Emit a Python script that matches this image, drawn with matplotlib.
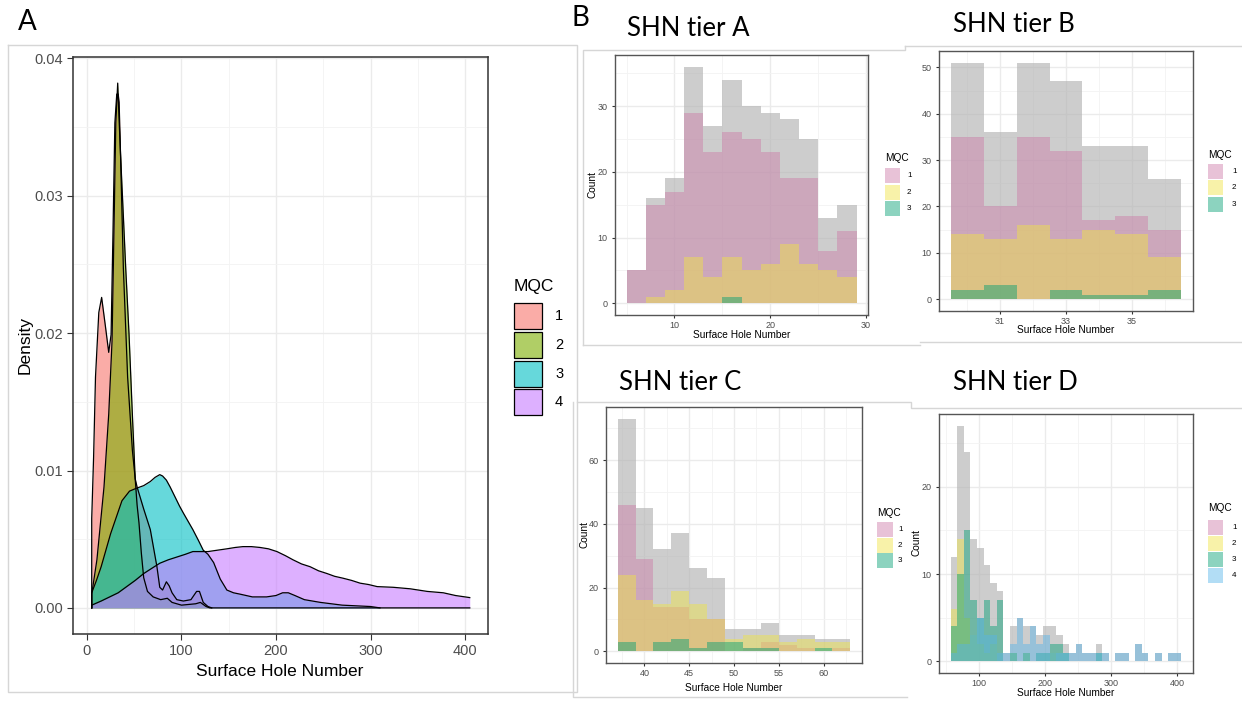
import matplotlib.pyplot as plt
from matplotlib.colors import to_rgba
from matplotlib.lines import Line2D
from matplotlib.patches import Rectangle

plt.rcParams['font.family'] = ['Liberation Sans', 'DejaVu Sans']

# ---------------- panel A: density curves ----------------
mqc1_x = [5, 5, 7, 9, 12.5, 15.5, 19.5, 23, 25.5, 27.5, 29.5, 31.5, 33, 34, 35.5, 38.5, 43, 48, 51, 53,
          60, 67, 74, 77, 80, 84, 87, 90, 95, 102, 110, 116, 119, 123, 128, 132]
mqc1_y = [0, 0.0065, 0.011, 0.0168, 0.0215, 0.0226, 0.0205, 0.0186, 0.0199, 0.0273, 0.0353, 0.0374, 0.0374,
          0.0368, 0.033, 0.0247, 0.0168, 0.0115, 0.0094, 0.0088, 0.0072, 0.0057, 0.003, 0.0015, 0.0013,
          0.0019, 0.0016, 0.0011, 0.0006, 0.0005, 0.0006, 0.0012, 0.0012, 0.0004, 0.0001, 0]

mqc2_x = [5, 5, 10.5, 18, 23, 26.5, 28.5, 30.5, 32.5, 34, 35.5, 37.5, 41, 44.5, 48, 51, 53, 55, 57.5, 60,
          64, 70, 78, 85, 90, 100, 115, 120, 126, 130, 405]
mqc2_y = [0, 0.001, 0.0035, 0.0088, 0.0141, 0.0194, 0.0273, 0.0353, 0.0382, 0.0355, 0.0330, 0.0300, 0.0247,
          0.0199, 0.0141, 0.0094, 0.0075, 0.0062, 0.004, 0.0022, 0.0012, 0.0008, 0.0006, 0.0007, 0.0004,
          0.0002, 0.0003, 0.0004, 0.0001, 0, 0]

mqc3_x = [5, 5, 10, 15, 20, 25, 30, 37, 45, 52, 60, 67, 72, 77, 80, 84, 88, 93, 98, 102, 107, 112, 118,
          123, 128, 134, 141, 148, 155, 162, 175, 190, 200, 207, 213, 220, 230, 247, 270, 300, 310]
mqc3_y = [0, 0.0011, 0.002, 0.003, 0.0042, 0.0054, 0.0064, 0.0078, 0.0085, 0.0087, 0.0089, 0.0092, 0.0095,
          0.0097, 0.0096, 0.0093, 0.0088, 0.0081, 0.0074, 0.0069, 0.0063, 0.0057, 0.0049, 0.0042, 0.0039,
          0.0033, 0.0021, 0.0013, 0.0011, 0.001, 0.0008, 0.0008, 0.0009, 0.0011, 0.0011, 0.0009, 0.0006,
          0.0004, 0.0002, 0.0001, 0]

mqc4_x = [5, 5, 15, 24, 33, 42, 51, 60, 69, 77, 86, 95, 104, 112, 120, 128, 138, 148, 157, 165, 174, 183,
          192, 201, 210, 218, 227, 236, 245, 254, 262, 271, 280, 289, 298, 307, 324, 342, 360, 377, 390, 405]
mqc4_y = [0, 0.0002, 0.0005, 0.0008, 0.0011, 0.00155, 0.002, 0.0025, 0.0029, 0.00325, 0.0035, 0.0037,
          0.0039, 0.0041, 0.0041, 0.0041, 0.0042, 0.0043, 0.0044, 0.00446, 0.00446, 0.0044, 0.0043, 0.0041,
          0.0038, 0.0035, 0.0032, 0.003, 0.0027, 0.0025, 0.0023, 0.00216, 0.002, 0.0018, 0.0017, 0.00155,
          0.0015, 0.00139, 0.0012, 0.0011, 0.0009, 0.00075]

density_ticks = ['0.00', '0.01', '0.02', '0.03', '0.04']
mqc_labels = ['1', '2', '3', '4']
dens_colors = ['#F8766D', '#7CAE00', '#00BFC4', '#C77CFF']
hist_colors = ['#CC79A7', '#F0E442', '#009E73', '#56B4E9']

# ---------------- panel B: histograms per SHN tier ----------------
tierA_edges = [5, 7, 9, 11, 13, 15, 17, 19, 21, 23, 25, 27, 29]
tierA_all = [5, 16, 19, 36, 27, 34, 30, 29, 28, 25, 13, 15]
tierA_mqc1 = [5, 15, 17, 29, 23, 26, 25, 23, 19, 19, 8, 11]
tierA_mqc2 = [0, 1, 2, 7, 4, 7, 5, 6, 9, 6, 5, 4]
tierA_mqc3 = [0, 0, 0, 0, 0, 1, 0, 0, 0, 0, 0, 0]

tierB_edges = [29.5, 30.5, 31.5, 32.5, 33.5, 34.5, 35.5, 36.5]
tierB_all = [51, 36, 51, 47, 33, 33, 26]
tierB_mqc1 = [35, 20, 35, 32, 17, 18, 15]
tierB_mqc2 = [14, 13, 16, 13, 15, 14, 9]
tierB_mqc3 = [2, 3, 0, 2, 1, 1, 2]

tierC_edges = [37, 39, 41, 43, 45, 47, 49, 51, 53, 55, 57, 59, 61, 63]
tierC_all = [73, 45, 32, 37, 26, 23, 7, 7, 9, 5, 5, 4, 4]
tierC_mqc1 = [46, 29, 14, 14, 10, 10, 0, 1, 3, 2, 1, 0, 1]
tierC_mqc2 = [24, 16, 15, 19, 15, 10, 4, 5, 5, 3, 4, 3, 3]
tierC_mqc3 = [3, 0, 3, 4, 1, 3, 3, 1, 1, 0, 0, 1, 0]

tierD_edges = [57, 67, 77, 87, 97, 107, 117, 127, 137, 147, 157, 167, 177, 187, 197, 207, 217, 227,
               237, 247, 257, 267, 277, 287, 297, 307, 317, 327, 337, 347, 357, 367, 377, 387, 397, 407]
tierD_all = [12, 27, 24, 14, 13, 11, 9, 8, 1, 4, 5, 4, 4, 3, 4, 4, 3, 2, 1, 2, 1, 1, 2, 1, 0, 1, 1, 0,
             2, 1, 0, 1, 0, 1, 1]
tierD_mqc1 = [0] * 35
tierD_mqc2 = [6, 14, 5, 3, 2, 1, 2, 0, 0, 1, 0, 1, 0, 0, 0, 1, 0, 0, 0, 0, 0, 0, 0, 0, 0, 0, 0, 0,
              0, 0, 0, 0, 0, 0, 0]
tierD_mqc3 = [4, 10, 15, 7, 5, 7, 4, 7, 0, 1, 0, 1, 0, 1, 1, 2, 2, 1, 0, 0, 0, 0, 1, 0, 0, 0, 0, 0,
              0, 0, 0, 0, 0, 0, 0]
tierD_mqc4 = [1, 2, 2, 3, 5, 3, 3, 1, 1, 2, 5, 2, 4, 2, 3, 1, 1, 1, 1, 2, 1, 1, 1, 1, 0, 1, 1, 0,
              2, 1, 0, 1, 0, 1, 1]

W, H = 1242, 702
fig = plt.figure(figsize=(W / 100, H / 100), dpi=100)


def axes_px(x0, y0, x1, y1):
    return fig.add_axes([x0 / W, 1 - y1 / H, (x1 - x0) / W, (y1 - y0) / H])


def text_px(x, y, s, **kw):
    fig.text(x / W, 1 - y / H, s, **kw)


def line_px(xs, ys):
    fig.add_artist(Line2D([x / W for x in xs], [1 - y / H for y in ys], color='#d6d6d6', lw=1.0))


def gg_style(ax, xticks, xminor, yticks, yminor, size, border, lw, tick_len, xpad, ypad):
    ax.set_xticks(xticks)
    ax.set_xticks(xminor, minor=True)
    ax.set_yticks(yticks)
    ax.set_yticks(yminor, minor=True)
    ax.grid(True, which='major', color='#ebebeb', lw=1.0)
    ax.grid(True, which='minor', color='#f3f3f3', lw=0.6)
    ax.set_axisbelow(True)
    ax.tick_params(which='minor', length=0)
    ax.tick_params(which='major', length=tick_len, width=0.8, color='#333333',
                   labelsize=size, labelcolor='#4d4d4d')
    ax.tick_params(axis='x', pad=xpad)
    ax.tick_params(axis='y', pad=ypad)
    for spine in ax.spines.values():
        spine.set_color(border)
        spine.set_linewidth(lw)


def legend_px(x, y_title, key_tops, kw, kh, colors, alpha, edge, fs_title, fs_lab, lab_x):
    text_px(x, y_title, 'MQC', fontsize=fs_title, ha='left', va='center')
    for top, col, lab in zip(key_tops, colors, mqc_labels):
        fig.add_artist(Rectangle((x / W, 1 - (top + kh) / H), kw / W, kh / H,
                                 facecolor=to_rgba(col, alpha),
                                 edgecolor=edge if edge else 'none', lw=0.9))
        text_px(lab_x, top + kh / 2, lab, fontsize=fs_lab, ha='left', va='center')


# ---------------- panel A ----------------
axA = axes_px(73, 57, 488, 634)
for xs, ys, col in zip([mqc1_x, mqc2_x, mqc3_x, mqc4_x], [mqc1_y, mqc2_y, mqc3_y, mqc4_y], dens_colors):
    axA.fill_between(xs, ys, 0, color=col, alpha=0.6, lw=0)
    axA.plot(xs, ys, color='black', lw=0.9)
axA.set_xlim(-14.8, 424.3)
axA.set_ylim(-0.0019, 0.0401)
gg_style(axA, [0, 100, 200, 300, 400], [50, 150, 250, 350],
         [0, 0.01, 0.02, 0.03, 0.04], [0.005, 0.015, 0.025, 0.035],
         10.5, '#333333', 1.1, 4, 3, 3)
axA.set_yticklabels(density_ticks)
text_px(280, 672, 'Surface Hole Number', fontsize=12.5, ha='center', va='center')
text_px(25, 345, 'Density', fontsize=12.5, ha='center', va='center', rotation=90)
legend_px(514, 287, [303, 332, 361, 389], 28, 26, dens_colors, 0.6, 'black', 12.5, 10.5, 555)


# ---------------- panel B ----------------
def tier_hist(ax, edges, total, groups):
    ax.stairs(total, edges, fill=True, color='#b3b3b3', alpha=0.65, lw=0)
    for counts, col in zip(groups, hist_colors):
        ax.stairs(counts, edges, fill=True, color=col, alpha=0.45, lw=0)


ax1 = axes_px(615, 55, 868, 315)
tier_hist(ax1, tierA_edges, tierA_all, [tierA_mqc1, tierA_mqc2, tierA_mqc3])
ax1.set_xlim(3.8, 30.2)
ax1.set_ylim(-1.8, 37.8)
gg_style(ax1, [10, 20, 30], [5, 15, 25], [0, 10, 20, 30], [5, 15, 25, 35], 6.5, '#555555', 1.0, 2.5, 2, 3)

ax2 = axes_px(939, 51, 1193, 311)
tier_hist(ax2, tierB_edges, tierB_all, [tierB_mqc1, tierB_mqc2, tierB_mqc3])
ax2.set_xlim(29.15, 36.85)
ax2.set_ylim(-2.55, 53.55)
gg_style(ax2, [31, 33, 35], [30, 32, 34, 36], [0, 10, 20, 30, 40, 50], [5, 15, 25, 35, 45],
         6.5, '#555555', 1.0, 2.5, 2, 3)

ax3 = axes_px(606, 407, 862, 663)
tier_hist(ax3, tierC_edges, tierC_all, [tierC_mqc1, tierC_mqc2, tierC_mqc3])
ax3.set_xlim(35.7, 64.3)
ax3.set_ylim(-3.65, 76.65)
gg_style(ax3, [40, 45, 50, 55, 60], [37.5, 42.5, 47.5, 52.5, 57.5, 62.5], [0, 20, 40, 60], [10, 30, 50, 70],
         6.5, '#555555', 1.0, 2.5, 1.5, 3)

ax4 = axes_px(939, 414, 1193, 673)
tier_hist(ax4, tierD_edges, tierD_all, [tierD_mqc1, tierD_mqc2, tierD_mqc3, tierD_mqc4])
ax4.set_xlim(39.5, 424.5)
ax4.set_ylim(-1.35, 28.35)
gg_style(ax4, [100, 200, 300, 400], [50, 150, 250, 350], [0, 10, 20], [5, 15, 25],
         6.5, '#555555', 1.0, 2.5, 2, 3)

# axis titles of the sub-panels
text_px(742, 335, 'Surface Hole Number', fontsize=7.3, ha='center', va='center')
text_px(593, 185, 'Count', fontsize=7.3, ha='center', va='center', rotation=90)
text_px(1066, 330, 'Surface Hole Number', fontsize=7.3, ha='center', va='center')
text_px(734, 688, 'Surface Hole Number', fontsize=7.3, ha='center', va='center')
text_px(584, 535, 'Count', fontsize=7.3, ha='center', va='center', rotation=90)
text_px(1066, 693, 'Surface Hole Number', fontsize=7.3, ha='center', va='center')
text_px(917, 543, 'Count', fontsize=7.3, ha='center', va='center', rotation=90)

legend_px(885, 158, [168, 185, 201], 15, 15, hist_colors[:3], 0.45, None, 7.3, 5.8, 907)
legend_px(1208, 155, [164, 180, 197], 15, 15, hist_colors[:3], 0.45, None, 7.3, 5.8, 1232)
legend_px(877, 513, [522, 538, 553], 16, 15, hist_colors[:3], 0.45, None, 7.3, 5.8, 898)
legend_px(1208, 508, [520, 536, 552, 568], 15, 15, hist_colors, 0.45, None, 7.3, 5.8, 1232)

# screenshot frames around each pasted plot
line_px([8, 577, 577, 8, 8], [45, 45, 692, 692, 45])
line_px([583, 583, 905, 905], [345, 50, 50, 46])
line_px([905, 1242], [46, 46])
line_px([583, 920], [345, 345])
line_px([920, 1242], [342, 342])
line_px([577, 911, 911, 1242], [402, 402, 408, 408])
line_px([573, 573, 907], [402, 697, 697])

# panel letters and tier titles
title_font = ['Lato', 'DejaVu Sans']
text_px(18, 22, 'A', fontsize=20, family=title_font, ha='left', va='center')
text_px(572, 18, 'B', fontsize=20, family=title_font, ha='left', va='center')
text_px(627, 29, 'SHN tier A', fontsize=18.5, family=title_font, ha='left', va='center')
text_px(953, 24, 'SHN tier B', fontsize=18.5, family=title_font, ha='left', va='center')
text_px(619, 383, 'SHN tier C', fontsize=18.5, family=title_font, ha='left', va='center')
text_px(953, 383, 'SHN tier D', fontsize=18.5, family=title_font, ha='left', va='center')

fig.savefig('out.png', dpi=100, facecolor='white')
